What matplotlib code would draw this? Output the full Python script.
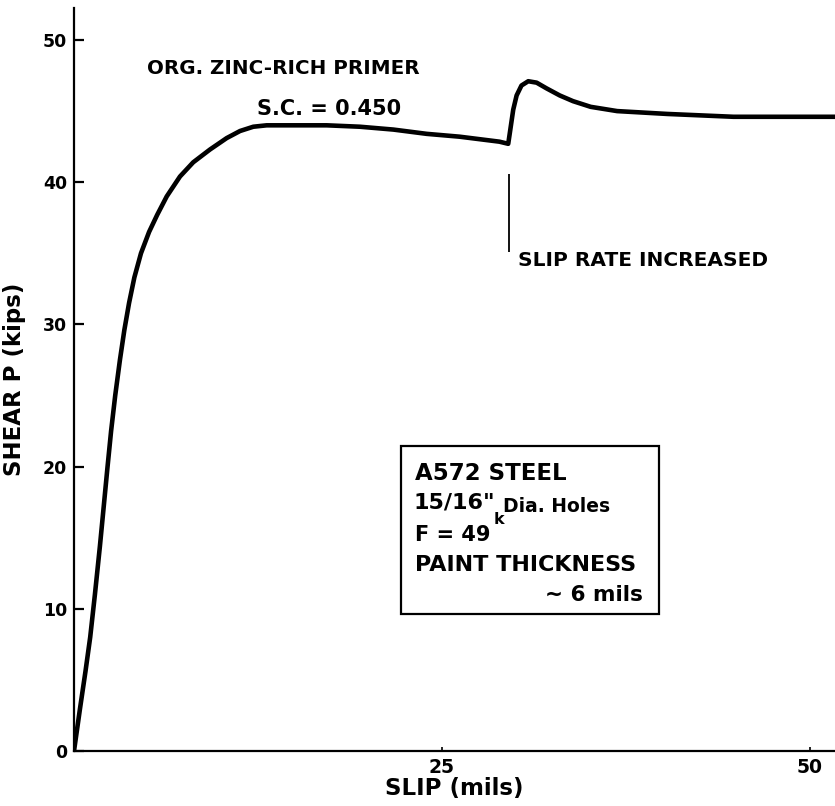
import matplotlib
matplotlib.use("Agg")
import matplotlib.pyplot as plt
from matplotlib.patches import Rectangle

# slip (mils) vs shear P (kips)
slip = [0, 0.41, 0.78, 1.1, 1.42, 1.76, 2.02, 2.27, 2.52, 2.8, 3.12, 3.42, 3.74,
        4.1, 4.55, 5.1, 5.65, 6.30, 7.20, 8.10, 9.24,
        10.37, 11.28, 12.18, 13.09, 17.17, 19.43, 21.7, 23.96, 26.2, 28.9, 29.5,
        29.6, 29.84, 30.07, 30.4, 30.86, 31.43, 32.1, 33.0, 33.9, 35.1, 36.9,
        40.3, 44.8, 51.7]
shear = [0, 3.0, 5.6, 8.0, 11.0, 14.4, 17.2, 19.9, 22.5, 25.0, 27.5, 29.6, 31.5,
         33.3, 35.0, 36.5, 37.7, 39.0, 40.4, 41.4, 42.3,
         43.1, 43.6, 43.9, 44.0, 44.0, 43.9, 43.7, 43.4, 43.2, 42.85, 42.7,
         43.4, 45.1, 46.1, 46.8, 47.1, 47.0, 46.6, 46.1, 45.7, 45.3, 45.0,
         44.8, 44.6, 44.6]

yticks = [0, 10, 20, 30, 40, 50]
xticks = [25, 50]
xtick_labels = ["25", "50"]

W, H = 835, 806
plt.rcParams['font.family'] = ['DejaVu Sans']
plt.rcParams['font.weight'] = 'bold'

fig = plt.figure(figsize=(W / 100, H / 100), dpi=100)
ax = fig.add_axes([74 / W, 55 / H, 761 / W, 743 / H])

ax.plot(slip, shear, color='black', lw=3.3, solid_capstyle='round',
        solid_joinstyle='round')
ax.set_xlim(0, 51.7)
ax.set_ylim(0, 52.25)

for s in ['top', 'right']:
    ax.spines[s].set_visible(False)
for s in ['left', 'bottom']:
    ax.spines[s].set_linewidth(1.6)

ax.set_yticks(yticks)
ax.set_yticklabels([str(t) for t in yticks], fontsize=12.5, fontweight='bold')
ax.set_xticks(xticks)
ax.set_xticklabels(xtick_labels, fontsize=13.5, fontweight='bold')
ax.tick_params(axis='y', direction='in', length=7, width=1.6, pad=5)
ax.tick_params(axis='x', direction='in', length=3, width=1.2, pad=5)

ax.set_xlabel("SLIP (mils)", fontsize=16.5, fontweight='bold', labelpad=0)
ax.set_ylabel("SHEAR P (kips)", fontsize=16.5, fontweight='bold', labelpad=12)

# slip rate marker
ax.vlines(29.55, 35.1, 40.6, color='black', lw=1.3)


def fx(px):
    return px / W


def fy(py):
    return 1 - py / H


fig.text(fx(147), fy(68), "ORG. ZINC-RICH PRIMER", fontsize=14.3, fontweight='bold', va='center')
fig.text(fx(257), fy(109), "S.C. = 0.450", fontsize=15, fontweight='bold', va='center')
fig.text(fx(518), fy(260), "SLIP RATE INCREASED", fontsize=14.5, fontweight='bold', va='center')

fig.patches.append(Rectangle((fx(401), fy(614)), (659 - 401) / W, (614 - 446) / H,
                             transform=fig.transFigure, fill=False, lw=1.6, ec='black'))
fig.text(fx(415), fy(473), "A572 STEEL", fontsize=16.5, fontweight='bold', va='center')
fig.text(fx(414), fy(503), "15/16\"", fontsize=16, fontweight='bold', va='center')
fig.text(fx(503), fy(506), "Dia. Holes", fontsize=13.5, fontweight='bold', va='center')
fig.text(fx(415), fy(535), "F = 49", fontsize=15, fontweight='bold', va='center')
fig.text(fx(494), fy(520), "k", fontsize=11.5, fontweight='bold', va='center')
fig.text(fx(415), fy(565), "PAINT THICKNESS", fontsize=16, fontweight='bold', va='center')
fig.text(fx(545), fy(595), "~ 6 mils", fontsize=15.5, fontweight='bold', va='center')

fig.savefig("out.png", dpi=100)
